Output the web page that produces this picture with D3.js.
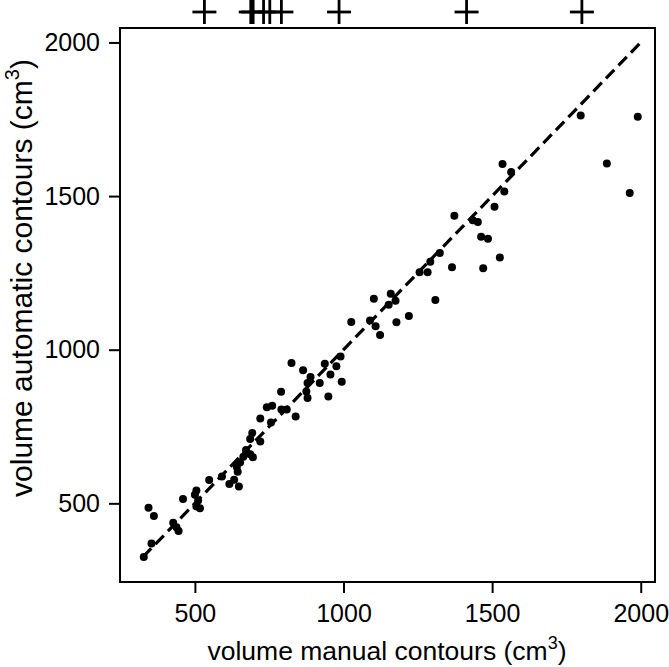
<!DOCTYPE html>
<html><head><meta charset="utf-8">
<script src="https://cdn.jsdelivr.net/npm/d3@7"></script>
<style>body{margin:0;background:#fff}</style>
</head><body>
<svg id="chart" width="669" height="667"></svg>
<script>
const manual = [328,354,344,362,427,438,445,460,505,500,511,505,517,548,591,616,648,632,644,652,641,672,686,663,695,686,720,693,720,756,742,760,791,809,839,790,825,864,889,920,879,875,879,949,937,976,956,994,990,1026,1089,1108,1123,1102,1178,1220,1159,1175,1152,1309,1256,1283,1292,1324,1365,1373,1435,1452,1463,1486,1470,1526,1508,1541,1535,1564,1798,1990,1886,1963];
const automatic = [325,369,486,459,437,422,410,514,542,528,509,490,484,576,587,563,555,577,603,633,618,674,660,652,650,709,701,729,776,763,813,818,805,805,783,863,957,933,911,892,892,864,843,848,954,946,919,896,978,1090,1095,1076,1048,1166,1089,1110,1182,1159,1146,1162,1252,1252,1286,1315,1268,1436,1421,1416,1368,1361,1265,1300,1465,1515,1604,1578,1762,1758,1606,1510];
const rugTop = [532,688,696,731,752,791,985,1414,1802];
const xTicks = [500,1000,1500,2000];
const yTicks = [500,1000,1500,2000];
const identityLine = [325,2000];

const svg = d3.select("#chart");
const font = "Arial, 'Liberation Sans', sans-serif";
const x = d3.scaleLinear().domain([248,2048]).range([120,655]);
const y = d3.scaleLinear().domain([244,2047]).range([582,28]);

// dashed identity line
svg.append("line")
  .attr("x1", x(identityLine[0])).attr("y1", y(identityLine[0]))
  .attr("x2", x(identityLine[1])).attr("y2", y(identityLine[1]))
  .attr("stroke","#000").attr("stroke-width",3.2).attr("stroke-dasharray","12,6");

// points
svg.append("g").selectAll("circle").data(manual.map((m,i)=>[m,automatic[i]])).join("circle")
  .attr("cx", d=>x(d[0])).attr("cy", d=>y(d[1])).attr("r",4).attr("fill","#000");

// frame
svg.append("rect").attr("x",120).attr("y",28).attr("width",535).attr("height",554)
  .attr("fill","none").attr("stroke","#000").attr("stroke-width",2);

// axes
const gx = svg.append("g").attr("transform","translate(0,582)")
  .call(d3.axisBottom(x).tickValues(xTicks).tickSize(11).tickPadding(11).tickFormat(d3.format("d")));
const gy = svg.append("g").attr("transform","translate(120,0)")
  .call(d3.axisLeft(y).tickValues(yTicks).tickSize(11).tickPadding(9).tickFormat(d3.format("d")));
[gx,gy].forEach(g=>{
  g.select(".domain").remove();
  g.selectAll(".tick line").attr("stroke","#000").attr("stroke-width",2);
  g.selectAll(".tick text").attr("fill","#000").style("font-family",font).style("font-size","25px");
});

// top rug crosses
const cs = 12;
const rg = svg.append("g").attr("stroke","#000").attr("stroke-width",2.8);
rugTop.forEach(v=>{
  rg.append("line").attr("x1",x(v)-cs).attr("x2",x(v)+cs).attr("y1",12).attr("y2",12);
  rg.append("line").attr("x1",x(v)).attr("x2",x(v)).attr("y1",0).attr("y2",24);
});

// axis labels
const xl = svg.append("text").attr("x",387).attr("y",660).attr("text-anchor","middle")
  .style("font-family",font).style("font-size","26.5px").attr("fill","#000");
xl.append("tspan").text("volume manual contours (cm");
xl.append("tspan").attr("dy",-11).style("font-size","18px").text("3");
xl.append("tspan").attr("dy",11).text(")");

const yl = svg.append("text").attr("transform","translate(32,278) rotate(-90)").attr("text-anchor","middle")
  .style("font-family",font).style("font-size","30px").attr("fill","#000");
yl.append("tspan").text("volume automatic contours (cm");
yl.append("tspan").attr("dy",-13).style("font-size","20px").text("3");
yl.append("tspan").attr("dy",13).text(")");
</script>
</body></html>
